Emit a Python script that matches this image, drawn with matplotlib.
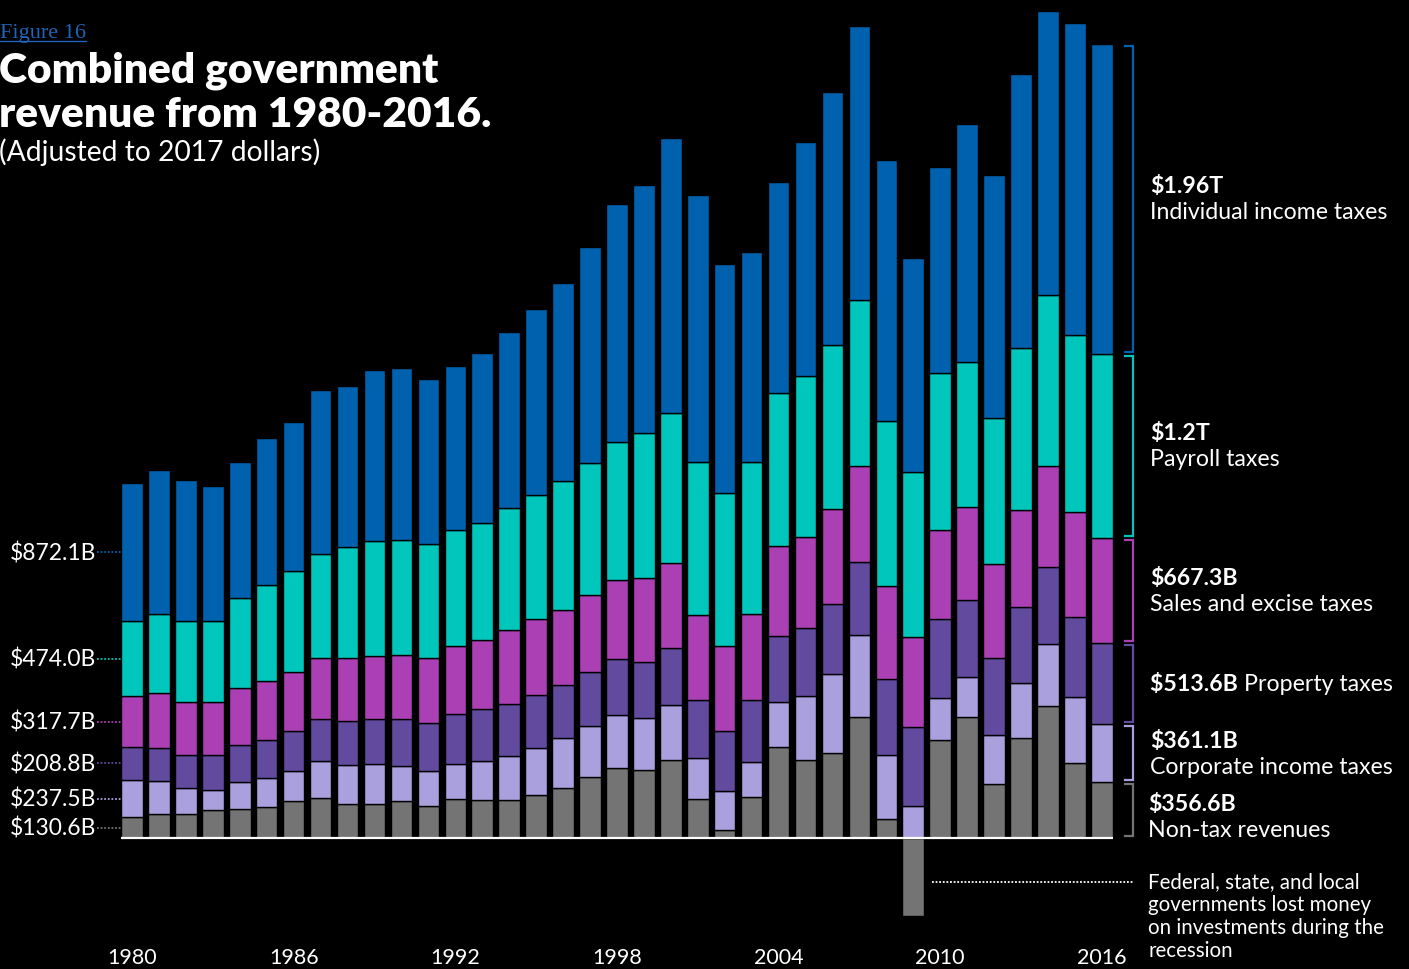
import matplotlib
matplotlib.use("Agg")
import matplotlib.pyplot as plt
from matplotlib.lines import Line2D
import numpy as np

# ---------------- data (billions of 2017 dollars) ----------------
years = list(range(1980, 2017))
non_tax = [130.6, 151.7, 151.7, 178.2, 182.0, 197.8, 235.7, 254.7, 213.0, 213.0,
           237.0, 205.4, 249.0, 240.2, 240.2, 269.2, 317.9, 382.4, 444.9, 427.9,
           493.0, 246.5, 50.6, 256.6, 572.0, 494.2, 538.5, 767.2, 122.6, -495.5,
           617.5, 767.2, 341.3, 632.0, 834.9, 475.3, 356.6]
corporate = [237.5, 206.7, 162.4, 125.8, 173.8, 183.3, 185.8, 231.9, 246.5, 252.2,
             219.9, 216.1, 218.0, 246.5, 279.3, 302.7, 316.0, 327.4, 333.1, 327.4,
             349.5, 256.0, 246.5, 221.8, 289.5, 404.5, 494.9, 517.0, 405.1, 205.4,
             266.1, 251.5, 310.3, 348.9, 393.1, 416.5, 361.1]
property_tax = [208.8, 209.8, 212.4, 221.2, 233.2, 241.4, 257.9, 266.7, 276.8, 288.8,
                295.8, 304.0, 318.5, 325.5, 329.9, 330.5, 334.3, 340.0, 351.4, 354.6,
                356.4, 368.5, 379.2, 395.0, 417.8, 427.2, 442.4, 461.4, 475.9, 497.4,
                502.4, 487.3, 483.5, 476.5, 487.3, 505.6, 513.6]
sales_excise = [317.7, 347.6, 331.8, 336.2, 362.1, 372.9, 371.0, 383.0, 400.1, 398.2,
                404.5, 415.2, 427.9, 439.2, 463.3, 479.1, 475.9, 486.0, 503.1, 534.7,
                541.6, 536.6, 537.2, 544.8, 564.4, 577.0, 603.6, 603.6, 592.2, 570.1,
                561.8, 588.4, 595.3, 618.1, 633.9, 663.0, 667.3]
payroll = [474.0, 497.4, 511.3, 513.2, 564.4, 604.8, 633.9, 661.7, 702.8, 723.6,
           728.7, 720.5, 733.1, 736.9, 774.2, 788.1, 810.2, 831.1, 867.7, 912.0,
           943.6, 967.0, 967.0, 957.5, 968.9, 1019.4, 1034.0, 1052.9, 1041.5, 1038.4,
           993.5, 914.5, 922.1, 1019.4, 1083.2, 1121.2, 1160.0]
individual = [872.1, 910.7, 891.1, 846.9, 858.9, 925.9, 944.8, 1033.3, 1017.5, 1080.7,
              1083.9, 1039.6, 1034.6, 1074.4, 1113.6, 1171.1, 1255.8, 1369.5, 1506.7, 1572.4,
              1738.0, 1691.2, 1447.9, 1325.3, 1333.5, 1477.6, 1600.9, 1727.9, 1649.5, 1353.1,
              1300.7, 1506.7, 1537.0, 1735.5, 1794.9, 1967.4, 1960.0]

series_names = ["Non-tax revenues", "Corporate income taxes", "Property taxes",
                "Sales and excise taxes", "Payroll taxes", "Individual income taxes"]
left_labels = ["$130.6B", "$237.5B", "$208.8B", "$317.7B", "$474.0B", "$872.1B"]
right_values = ["$356.6B", "$361.1B", "$513.6B", "$667.3B", "$1.2T", "$1.96T"]
tick_years = [1980, 1986, 1992, 1998, 2004, 2010, 2016]
colors = ["#747474", "#aba0de", "#624a9e", "#ab40b5", "#00c6bb", "#0061af"]
note_text = ("Federal, state, and local\ngovernments lost money\n"
             "on investments during the\nrecession")

# ---------------- layout ----------------
W, H = 1409, 970
BASE_PX = 839.0
B_PER_PX = 6.32
X0_PX, STEP = 132.0, 26.94
FONT = "Lato"

fig = plt.figure(figsize=(W / 100, H / 100), dpi=100, facecolor="black")
left_px = X0_PX - 0.5 * STEP
right_px = X0_PX + 36.5 * STEP
ax = fig.add_axes([left_px / W, 0, (right_px - left_px) / W, 1])
ax.set_facecolor("black")
ax.set_xlim(-0.5, 36.5)
ax.set_ylim((BASE_PX - H) * B_PER_PX, BASE_PX * B_PER_PX)
ax.axis("off")

x = np.arange(len(years))
series = [np.array(s, dtype=float) for s in
          [non_tax, corporate, property_tax, sales_excise, payroll, individual]]

# bottom series may be negative; positive stack starts at 0
ax.bar(x, series[0], width=0.8, color=colors[0], edgecolor="black", linewidth=1.0, zorder=2)
bottom = np.maximum(series[0], 0)
bottoms = [np.zeros_like(bottom)]
for s, c in zip(series[1:], colors[1:]):
    bottoms.append(bottom.copy())
    ax.bar(x, s, bottom=bottom, width=0.8, color=c, edgecolor="black", linewidth=1.0, zorder=2)
    bottom = bottom + s

# baseline
ax.plot([-0.4, 36.4], [0, 0], color="white", lw=1.6, zorder=5, solid_capstyle="butt")

def to_px_y(v):
    """data value -> figure fraction y"""
    return ax.transData.transform((0, v))[1] / H

def data_x_frac(xd):
    return ax.transData.transform((xd, 0))[0] / W

# ---------------- left labels (1980 values) ----------------
for i, (lab, c) in enumerate(zip(left_labels, colors)):
    mid = bottoms[i][0] + series[i][0] / 2
    fig.text(96 / W, to_px_y(mid), lab, color="white", fontsize=16.5, family=FONT,
             ha="right", va="center")
    ax.plot([(97 - X0_PX) / STEP, (121 - X0_PX) / STEP], [mid, mid], color=c,
            lw=1.3, ls=(0, (1, 1)), clip_on=False, zorder=3)

# ---------------- brackets and right labels (2016 values) ----------------
RFS = 16.7
inset = 2.0 * B_PER_PX
bx = (1133 - X0_PX) / STEP
bx0 = (1125 - X0_PX) / STEP
last = len(years) - 1
for i, c in enumerate(colors):
    lo = bottoms[i][last] + inset
    hi = bottoms[i][last] + series[i][last] - inset
    ax.plot([bx0, bx, bx, bx0], [hi, hi, lo, lo], color=c, lw=1.6,
            clip_on=False, zorder=3, solid_joinstyle="miter")
    mid = (lo + hi) / 2
    ymid = to_px_y(mid)
    if i == 2:
        t = fig.text(1150 / W, ymid, right_values[i] + " ", color="white", fontsize=RFS,
                     weight="bold", family=FONT, ha="left", va="center")
        fig.canvas.draw()
        bb = t.get_window_extent()
        fig.text(bb.x1 / W, ymid, series_names[i], color="white", fontsize=RFS,
                 family=FONT, ha="left", va="center")
    else:
        shift = 7 / H if i == 0 else 0
        xx = 1148 / W if i == 0 else 1150 / W
        fig.text(xx, ymid + 13 / H - shift, right_values[i], color="white", fontsize=RFS,
                 weight="bold", family=FONT, ha="left", va="center")
        fig.text(xx, ymid - 13 / H - shift, series_names[i], color="white", fontsize=RFS,
                 family=FONT, ha="left", va="center")

# ---------------- recession note ----------------
note_y = (BASE_PX - 883) * B_PER_PX
ax.plot([(932 - X0_PX) / STEP, (1133 - X0_PX) / STEP], [note_y, note_y], color="white",
        lw=1.3, ls=(0, (1, 1)), clip_on=False, zorder=3)
fig.text(1148 / W, 1 - 872 / H, note_text, color="white", fontsize=14.8, family=FONT,
         ha="left", va="top", linespacing=1.18)

# ---------------- x tick labels ----------------
for yr in tick_years:
    fig.text(data_x_frac(yr - years[0]), 1 - 958 / H, str(yr), color="white",
             fontsize=15.5, family=FONT, ha="center", va="center")

# ---------------- titles ----------------
fig_t = fig.text(0 / W, 1 - 38 / H, "Figure 16", color="#1f64b8", fontsize=16,
                 family="Liberation Serif", ha="left", va="baseline")
fig.text(-1 / W, 1 - 82 / H, "Combined government", color="white", fontsize=30.6,
         weight="heavy", family=FONT, ha="left", va="baseline")
fig.text(-1 / W, 1 - 127 / H, "revenue from 1980-2016.", color="white", fontsize=30.6,
         weight="heavy", family=FONT, ha="left", va="baseline")
fig.text(-1 / W, 1 - 152 / H, "(Adjusted to 2017 dollars)", color="white", fontsize=20.3,
         family=FONT, ha="left", va="center")

fig.canvas.draw()
bb = fig_t.get_window_extent()
fig.add_artist(Line2D([bb.x0 / W, bb.x1 / W], [(bb.y0 + 1) / H, (bb.y0 + 1) / H],
                      color="#1f64b8", lw=1.0))

fig.savefig("out.png", dpi=100, facecolor="black")
